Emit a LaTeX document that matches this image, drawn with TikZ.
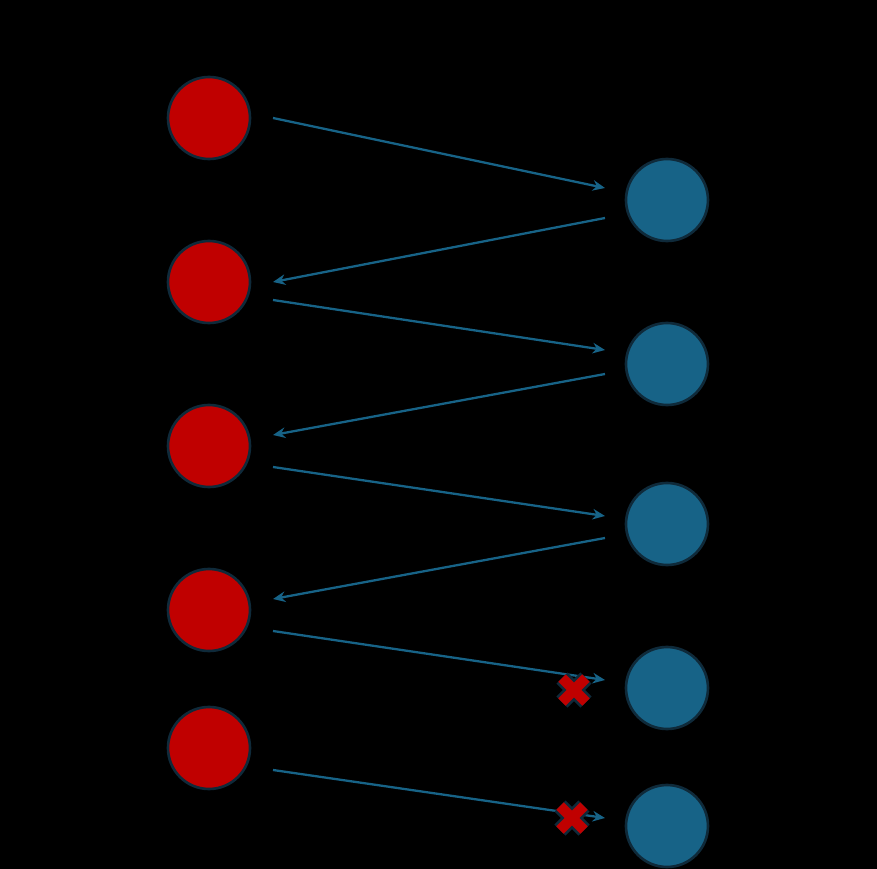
\documentclass[tikz,border=0pt]{standalone}
\usetikzlibrary{arrows.meta}
\definecolor{rd}{HTML}{C00000}
\definecolor{bl}{HTML}{176387}
\definecolor{edge}{HTML}{0F2A3A}
\tikzset{
 rnode/.style={circle,fill=rd,draw=edge,line width=1.5pt,minimum size={82*0.02cm},inner sep=0pt},
 bnode/.style={circle,fill=bl,draw=edge,line width=1.5pt,minimum size={82*0.02cm},inner sep=0pt},
 conn/.style={draw=bl,line width=1.3pt,-{Stealth[length=7pt,width=6pt]}},
 xout/.style={draw=edge,line width=9pt},
 xin/.style={draw=rd,line width=6pt}
}
\begin{document}
\begin{tikzpicture}[x=0.02cm,y=-0.02cm]
\fill[black] (0,0) rectangle (877,869);
\useasboundingbox (0,0) rectangle (877,869);
\foreach \i/\y in {1/118,2/282,3/446,4/610,5/748} \node[rnode] (r\i) at (209,\y) {};
\foreach \i/\y in {1/200,2/364,3/524,4/688,5/826} \node[bnode] (b\i) at (667,\y) {};
\foreach \n/\x/\y in {a1/273/118,a2/605/188,c1/605/218,c2/273/282,d1/273/300,d2/605/350,e1/605/374,e2/273/435,f1/273/467,f2/605/516,g1/605/538,g2/273/599,h1/273/631,h2/605/680,k1/273/770,k2/605/818}
  \coordinate (\n) at (\x,\y);
\foreach \s/\t in {a1/a2,c1/c2,d1/d2,e1/e2,f1/f2,g1/g2,h1/h2,k1/k2} \draw[conn] (\s) -- (\t);
\foreach \n/\x/\y in {x1/574/690,x2/572/818}{
  \coordinate (\n) at (\x,\y);
  \draw[xout] ([shift={(-12,-12)}]\n) -- ([shift={(12,12)}]\n) ([shift={(-12,12)}]\n) -- ([shift={(12,-12)}]\n);
  \draw[xin] ([shift={(-12,-12)}]\n) -- ([shift={(12,12)}]\n) ([shift={(-12,12)}]\n) -- ([shift={(12,-12)}]\n);
}
\end{tikzpicture}
\end{document}
